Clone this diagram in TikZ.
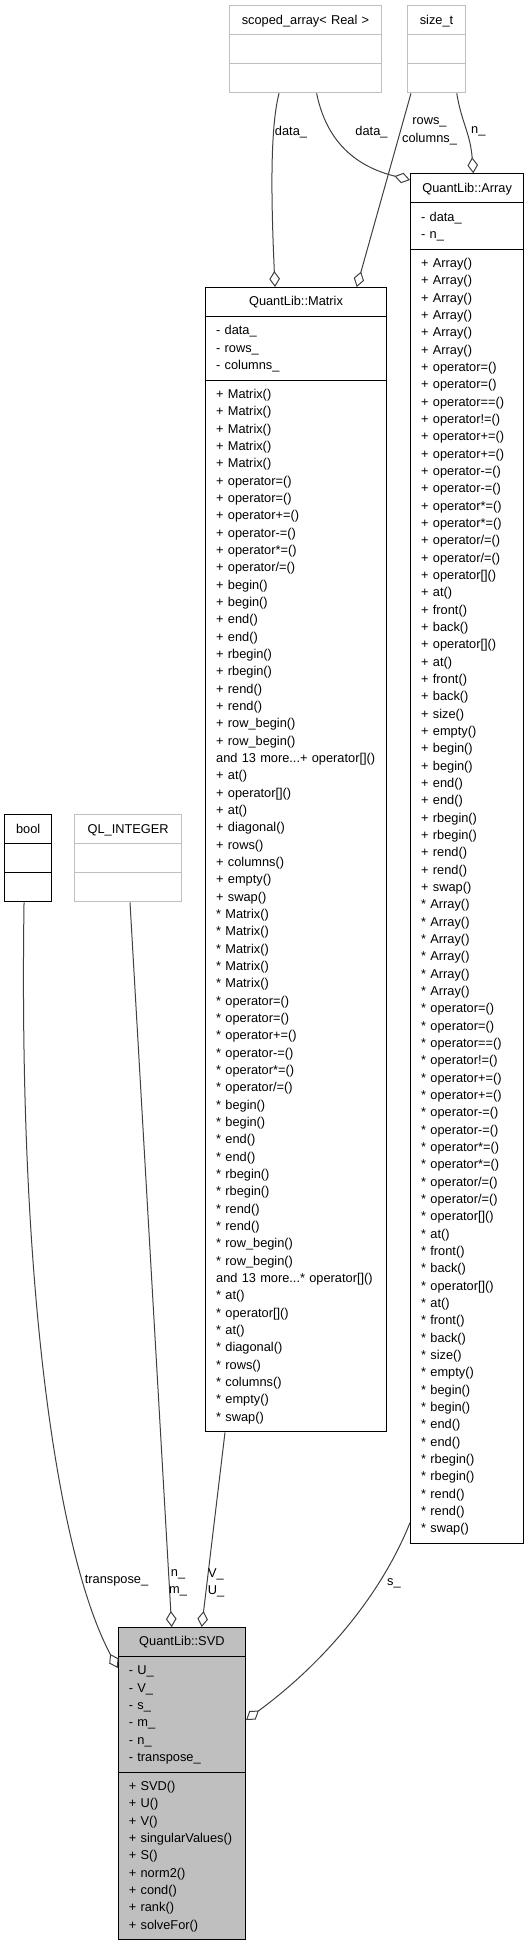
\documentclass[tikz,border=0pt]{standalone}
\usepackage{fontspec}
\setmainfont{Liberation Sans}
\usetikzlibrary{arrows.meta,shapes.multipart}

\definecolor{boxgray}{HTML}{BFBFBF}
\definecolor{edgegray}{HTML}{404040}

\newcommand{\rowstrut}{\rule[-3.7pt]{0pt}{13pt}}
\newcommand{\fld}[1]{\rowstrut#1\rowstrut}

\newcommand{\matrixops}[1]{%
{#1} Matrix()\\{#1} Matrix()\\{#1} Matrix()\\{#1} Matrix()\\{#1} Matrix()\\
{#1} operator=()\\{#1} operator=()\\{#1} operator+=()\\{#1} operator-=()\\
{#1} operator*=()\\{#1} operator/=()\\
{#1} begin()\\{#1} begin()\\{#1} end()\\{#1} end()\\
{#1} rbegin()\\{#1} rbegin()\\{#1} rend()\\{#1} rend()\\
{#1} row\_begin()\\{#1} row\_begin()\\
\mbox{and 13 more...{#1} operator[]()}\\
{#1} at()\\{#1} operator[]()\\{#1} at()\\{#1} diagonal()\\
{#1} rows()\\{#1} columns()\\{#1} empty()\\{#1} swap()}

\newcommand{\arrayops}[1]{%
{#1} Array()\\{#1} Array()\\{#1} Array()\\{#1} Array()\\{#1} Array()\\{#1} Array()\\
{#1} operator=()\\{#1} operator=()\\{#1} operator==()\\{#1} operator!=()\\
{#1} operator+=()\\{#1} operator+=()\\{#1} operator-=()\\{#1} operator-=()\\
{#1} operator*=()\\{#1} operator*=()\\{#1} operator/=()\\{#1} operator/=()\\
{#1} operator[]()\\{#1} at()\\{#1} front()\\{#1} back()\\
{#1} operator[]()\\{#1} at()\\{#1} front()\\{#1} back()\\
{#1} size()\\{#1} empty()\\
{#1} begin()\\{#1} begin()\\{#1} end()\\{#1} end()\\
{#1} rbegin()\\{#1} rbegin()\\{#1} rend()\\{#1} rend()\\
{#1} swap()}

\tikzset{
  classbox/.style={rectangle split, rectangle split parts=3, draw=black, line width=0.75pt,
    inner xsep=8pt, inner ysep=4pt, text width=#1, align=left, anchor=north west,
    font=\fontsize{9.6}{13}\selectfont, every text node part/.style={align=center}},
  typebox/.style={classbox=#1, draw=boxgray},
  usage/.style={draw=edgegray, line width=0.75pt, -{Diamond[open, length=12pt, width=8pt]}},
  edgelabel/.style={font=\fontsize{9.6}{13}\selectfont, align=center, inner sep=0pt},
}

\begin{document}
\begin{tikzpicture}[x=0.75pt, y=-0.75pt]
    \useasboundingbox (0,0) rectangle (528,1941);

    \node[typebox=97.5pt] (scoped) at (229.3,5.3) {\fld{scoped\_array< Real >}\nodepart{second}\fld{}\nodepart{third}\fld{}};
    \node[typebox=27.5pt] (sizet) at (407,5.3) {\fld{size\_t}\nodepart{second}\fld{}\nodepart{third}\fld{}};
    \node[classbox=69pt] (array) at (410,173.3) {\fld{QuantLib::Array}
        \nodepart{second}\fld{- data\_\\- n\_}
        \nodepart{third}\fld{\arrayops{+}\\\arrayops{*}}};
    \node[classbox=119.75pt] (matrix) at (205,287) {\fld{QuantLib::Matrix}
        \nodepart{second}\fld{- data\_\\- rows\_\\- columns\_}
        \nodepart{third}\fld{\matrixops{+}\\\matrixops{*}}};
    \node[classbox=19pt] (boolbox) at (4.3,814.3) {\fld{bool}\nodepart{second}\fld{}\nodepart{third}\fld{}};
    \node[typebox=64.5pt] (qlint) at (74,814.3) {\fld{QL\_INTEGER}\nodepart{second}\fld{}\nodepart{third}\fld{}};
    \node[classbox=79.5pt, fill=boxgray] (svd) at (117.7,1627) {\fld{QuantLib::SVD}
        \nodepart{second}\fld{- U\_\\- V\_\\- s\_\\- m\_\\- n\_\\- transpose\_}
        \nodepart{third}\fld{+ SVD()\\+ U()\\+ V()\\+ singularValues()\\+ S()\\+ norm2()\\+ cond()\\+ rank()\\+ solveFor()}};

    \draw[usage] ([xshift=37.3pt]scoped.south west) .. controls +(-9,35) and +(-4,-90) .. ([xshift=52.5pt]matrix.north west);
    \draw[usage] ([xshift=65.5pt]scoped.south west) .. controls +(12,60) and +(-40,-10) .. ([yshift=-5pt]array.north west);
    \draw[usage] ([xshift=3pt]sizet.south west) -- ([xshift=113.8pt]matrix.north west);
    \draw[usage] ([xshift=37.3pt]sizet.south west) .. controls +(5,30) and +(-3,-40) .. ([xshift=47.5pt]array.north west);
    \draw[usage] ([xshift=14.8pt]boolbox.south west) .. controls +(-6,400) and +(-58,-108) .. ([yshift=-30.75pt]svd.north west);
    \draw[usage] ([xshift=42pt]qlint.south west) -- ([xshift=40.5pt]svd.north west);
    \draw[usage] ([xshift=15pt]matrix.south west) -- ([xshift=63pt]svd.north west);
    \draw[usage] ([yshift=16pt]array.south west) .. controls +(-30,75) and +(75,-55) .. ([yshift=-69.75pt]svd.north east);

    \node[edgelabel] (lbldata1) at (291,131.7) {data\_};
    \node[edgelabel] (lbldata2) at (371.5,131.7) {data\_};
    \node[edgelabel] (lblrows) at (429.5,131.3) {rows\_\\columns\_};
    \node[edgelabel] (lbln) at (478.3,131.7) {n\_};
    \node[edgelabel] (lbltranspose) at (116.5,1581) {transpose\_};
    \node[edgelabel] (lblnm) at (178,1583) {n\_\\m\_};
    \node[edgelabel] (lblvu) at (216,1583) {V\_\\U\_};
    \node[edgelabel] (lbls) at (394,1583) {s\_};
\end{tikzpicture}
\end{document}
